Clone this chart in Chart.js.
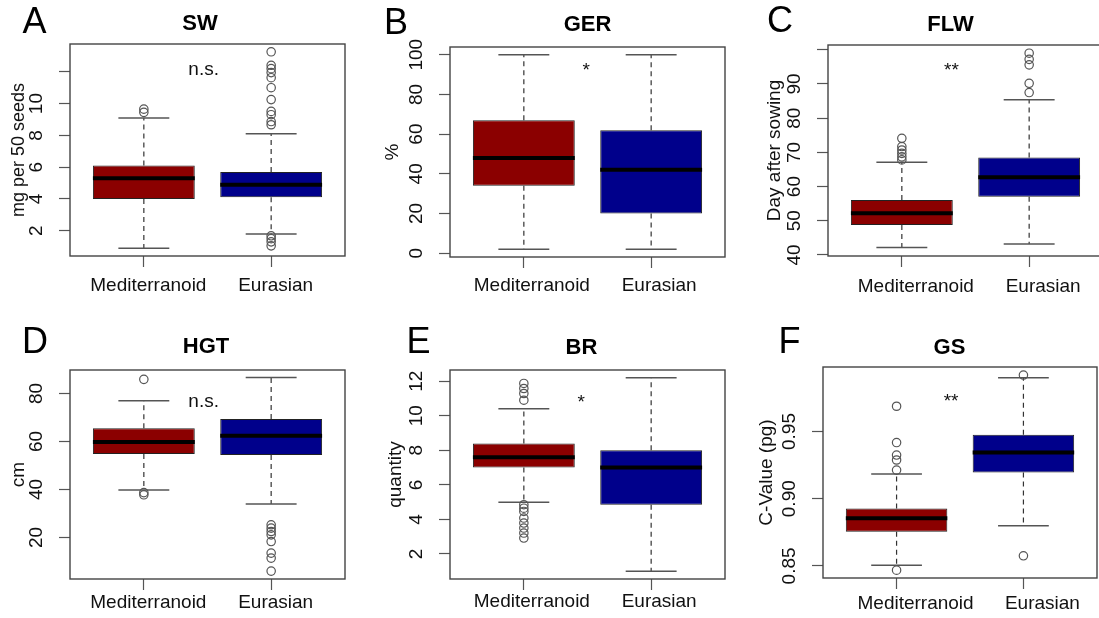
<!DOCTYPE html>
<html>
<head>
<meta charset="utf-8">
<script src="https://cdn.jsdelivr.net/npm/chart.js@4.4.1/dist/chart.umd.min.js"></script>
<style>
  html, body { margin: 0; padding: 0; background: #fff; overflow: hidden; }
  #wrap { position: relative; width: 1099px; height: 618px; overflow: hidden; background: #fff; }
  #wrap canvas { position: absolute; }
</style>
</head>
<body>
<div id="wrap"></div>
<script>
// groups and panel texts
const groups = ['Mediterranoid', 'Eurasian'];
const letters = ['A', 'B', 'C', 'D', 'E', 'F'];
const traits = ['SW', 'GER', 'FLW', 'HGT', 'BR', 'GS'];
const yTitles = ['mg per 50 seeds', '%', 'Day after sowing', 'cm', 'quantity', 'C-Value (pg)'];
const signif = ['n.s.', '*', '**', 'n.s.', '*', '**'];
const boxColors = ['#8b0000', '#00008b'];

// [lower whisker, Q1, median, Q3, upper whisker] for Mediterranoid, Eurasian
const swBox  = [[0.9, 4.0, 5.3, 6.1, 9.1], [1.8, 4.1, 4.9, 5.7, 8.1]];
const gerBox = [[2, 34, 48, 67, 100], [2, 20, 42, 62, 100]];
const flwBox = [[42.2, 48.8, 52.2, 56.1, 67.1], [43.2, 57.0, 62.7, 68.5, 85.4]];
const hgtBox = [[39.8, 54.8, 59.8, 65.5, 77.0], [34.0, 54.4, 62.4, 69.4, 86.7]];
const brBox  = [[5.0, 7.0, 7.6, 8.4, 10.4], [1.0, 4.85, 7.0, 8.0, 12.2]];
const gsBox  = [[0.8505, 0.8755, 0.8855, 0.8928, 0.9183], [0.8798, 0.9195, 0.9343, 0.9475, 0.990]];

// outliers
const swOut  = [[9.45, 9.65], [13.26, 12.41, 12.2, 11.95, 11.63, 11.0, 10.25, 9.51, 9.3, 8.87, 8.67, 1.68, 1.5, 1.3, 1.05]];
const gerOut = [[], []];
const flwOut = [[74.1, 71.7, 70.7, 69.7, 68.7, 67.8], [99.0, 97.2, 95.6, 90.2, 87.5]];
const hgtOut = [[85.9, 38.7, 37.8], [25.3, 23.9, 22.5, 21.1, 18.3, 13.5, 11.4, 6.0]];
const brOut  = [[11.87, 11.58, 11.29, 10.9, 4.85, 4.65, 4.46, 4.08, 3.79, 3.5, 3.21, 2.92], []];
const gsOut  = [[0.9688, 0.9418, 0.9325, 0.9288, 0.9213, 0.8468], [0.992, 0.8575]];

// axes
const yMin = [0.41, -1.92, 39.7, 2.7, 0.55, 0.841];
const yMax = [13.75, 103.9, 101.4, 89.8, 12.65, 0.998];
const yTicks = [
  [2, 4, 6, 8, 10, 12], [0, 20, 40, 60, 80, 100], [40, 50, 60, 70, 80, 90, 100],
  [20, 40, 60, 80], [2, 4, 6, 8, 10, 12], [0.85, 0.90, 0.95]
];
const yTickLabels = [
  ['2', '4', '6', '8', '10', ''], ['0', '20', '40', '60', '80', '100'], ['40', '50', '60', '70', '80', '90', ''],
  ['20', '40', '60', '80'], ['2', '4', '6', '8', '10', '12'], ['0.85', '0.90', '0.95']
];
// where the significance mark sits, in data units [x, y]
const signifAt = [[1.47, 12.14], [1.49, 91.9], [1.39, 93.8], [1.47, 76.7], [1.45, 10.76], [1.43, 0.972]];

const boxes = [swBox, gerBox, flwBox, hgtBox, brBox, gsBox];
const outliers = [swOut, gerOut, flwOut, hgtOut, brOut, gsOut];

// canvas placement for each panel
const panelLayout = [
  { left: 0,   top: 0,   h: 305, plotW: 275, plotH: 212, yTitleSize: 18, yTitlePad: 8.2, xLabPad: 7.6, xLabShift: 4.5, titleGap: 20,   titleDx: -7.5,  letter: [34.5, 23] },
  { left: 380, top: 3,   h: 305, plotW: 275, plotH: 210, yTitleSize: 19, yTitlePad: 1.6, xLabPad: 6.6, xLabShift: 8,   titleGap: 22.5, titleDx: 0,     letter: [16, 21] },
  { left: 758, top: 1,   h: 305, plotW: 275, plotH: 211, yTitleSize: 19, yTitlePad: 5.6, xLabPad: 8.6, xLabShift: 14,  titleGap: 20.5, titleDx: -15,   letter: [22, 21.5] },
  { left: 0,   top: 326, h: 292, plotW: 275, plotH: 209, yTitleSize: 19, yTitlePad: 7.6, xLabPad: 1.6, xLabShift: 4.5, titleGap: 23.5, titleDx: -1.5,  letter: [35, 17.5] },
  { left: 380, top: 326, h: 292, plotW: 275, plotH: 209, yTitleSize: 19, yTitlePad: 4.6, xLabPad: 0.6, xLabShift: 8,   titleGap: 22.5, titleDx: -6,    letter: [38.5, 17.5] },
  { left: 753, top: 323, h: 295, plotW: 274, plotH: 211, yTitleSize: 19, yTitlePad: 2.6, xLabPad: 3.6, xLabShift: 19,  titleGap: 19.5, titleDx: -10.5, letter: [36.5, 20.5] }
];

const FONT = '"Liberation Sans", Arial, Helvetica, sans-serif';
Chart.defaults.font.family = FONT;
Chart.defaults.color = '#111';

// whiskers under the boxes, medians / frame / texts on top
const boxPlotPlugin = {
  id: 'boxPlot',
  beforeDatasetsDraw(chart, args, opts) {
    const ctx = chart.ctx;
    const y = chart.scales.y;
    const meta = chart.getDatasetMeta(1);
    ctx.save();
    opts.stats.forEach((s, g) => {
      const bar = meta.data[g];
      const half = bar.width * 0.25;
      ctx.strokeStyle = '#333';
      ctx.lineWidth = 1.2;
      ctx.setLineDash([5, 4]);
      ctx.beginPath();
      ctx.moveTo(bar.x, y.getPixelForValue(s[1]));
      ctx.lineTo(bar.x, y.getPixelForValue(s[0]));
      ctx.moveTo(bar.x, y.getPixelForValue(s[3]));
      ctx.lineTo(bar.x, y.getPixelForValue(s[4]));
      ctx.stroke();
      ctx.setLineDash([]);
      ctx.strokeStyle = '#555';
      ctx.lineWidth = 1.5;
      ctx.beginPath();
      [s[0], s[4]].forEach(v => {
        const py = y.getPixelForValue(v);
        ctx.moveTo(bar.x - half, py);
        ctx.lineTo(bar.x + half, py);
      });
      ctx.stroke();
    });
    ctx.restore();
  },
  afterDatasetsDraw(chart, args, opts) {
    const ctx = chart.ctx;
    const x = chart.scales.x, y = chart.scales.y;
    const area = chart.chartArea;
    const meta = chart.getDatasetMeta(1);
    ctx.save();
    // medians
    ctx.strokeStyle = '#000';
    ctx.lineWidth = 4;
    opts.stats.forEach((s, g) => {
      const bar = meta.data[g];
      const py = y.getPixelForValue(s[2]);
      ctx.beginPath();
      ctx.moveTo(bar.x - bar.width / 2, py);
      ctx.lineTo(bar.x + bar.width / 2, py);
      ctx.stroke();
    });
    // plot frame
    ctx.strokeStyle = '#444';
    ctx.lineWidth = 1.4;
    ctx.strokeRect(area.left, area.top, area.right - area.left, area.bottom - area.top);
    // significance mark
    ctx.fillStyle = '#111';
    ctx.textAlign = 'center';
    ctx.textBaseline = 'middle';
    ctx.font = '19px ' + FONT;
    ctx.fillText(opts.mark, x.getPixelForValue(opts.markAt[0]), y.getPixelForValue(opts.markAt[1]));
    // panel title
    ctx.fillStyle = '#000';
    ctx.font = 'bold 22px ' + FONT;
    ctx.fillText(opts.title, (area.left + area.right) / 2 + opts.titleDx, area.top - opts.titleGap);
    // panel letter
    ctx.font = '36px ' + FONT;
    ctx.fillText(opts.letter, opts.letterPos[0], opts.letterPos[1]);
    ctx.restore();
  }
};

const measureCtx = document.createElement('canvas').getContext('2d');
measureCtx.font = '19px ' + FONT;

function makePanel(i) {
  const L = panelLayout[i];
  const canvas = document.createElement('canvas');
  canvas.width = 366;
  canvas.height = L.h;
  canvas.style.left = L.left + 'px';
  canvas.style.top = L.top + 'px';
  canvas.style.width = '366px';
  canvas.style.height = L.h + 'px';
  document.getElementById('wrap').appendChild(canvas);

  const points = [];
  outliers[i].forEach((vals, g) => vals.forEach(v => points.push({ x: g + 1, y: v })));

  const widest = Math.max(...yTickLabels[i].map(t => measureCtx.measureText(t).width));
  const yPad = 33 - 11 - widest / 2;
  const xAxisH = L.h - 44 - L.plotH;

  new Chart(canvas, {
    type: 'bar',
    data: {
      datasets: [
        {
          type: 'scatter',
          data: points,
          order: 1,
          pointStyle: 'circle',
          pointRadius: 4.2,
          pointBorderWidth: 1.2,
          pointBorderColor: '#555',
          pointBackgroundColor: 'rgba(0,0,0,0)'
        },
        {
          type: 'bar',
          data: boxes[i].map((s, g) => ({ x: g + 1, y: [s[1], s[3]] })),
          order: 2,
          backgroundColor: boxColors,
          borderColor: '#222',
          borderWidth: 1,
          borderSkipped: false,
          barPercentage: 0.8,
          categoryPercentage: 1
        }
      ]
    },
    options: {
      responsive: false,
      animation: false,
      events: [],
      layout: { padding: { left: 0, top: 44, right: 366 - 70 - L.plotW, bottom: 0 } },
      plugins: {
        legend: { display: false },
        tooltip: { enabled: false },
        boxPlot: {
          stats: boxes[i],
          mark: signif[i],
          markAt: signifAt[i],
          title: traits[i],
          titleDx: L.titleDx,
          titleGap: L.titleGap,
          letter: letters[i],
          letterPos: L.letter
        }
      },
      scales: {
        x: {
          type: 'linear',
          min: 0.42,
          max: 2.58,
          offset: false,
          bounds: 'data',
          afterBuildTicks: s => { s.ticks = [{ value: 1 }, { value: 2 }]; },
          afterFit: s => { s.height = xAxisH; },
          ticks: {
            autoSkip: false,
            maxRotation: 0,
            padding: L.xLabPad,
            labelOffset: L.xLabShift,
            color: '#111',
            font: { size: 19 },
            callback: (v, idx) => groups[idx]
          },
          grid: { display: true, offset: false, drawOnChartArea: false, drawTicks: true, tickLength: 11, tickColor: '#555', tickWidth: 1.2 },
          border: { display: false }
        },
        y: {
          type: 'linear',
          min: yMin[i],
          max: yMax[i],
          beginAtZero: false,
          bounds: 'data',
          afterBuildTicks: s => { s.ticks = yTicks[i].map(v => ({ value: v })); },
          afterFit: s => { s.width = 70; },
          ticks: {
            autoSkip: false,
            minRotation: 90,
            maxRotation: 90,
            crossAlign: 'center',
            padding: yPad,
            color: '#111',
            font: { size: 19 },
            callback: (v, idx) => yTickLabels[i][idx]
          },
          title: {
            display: true,
            text: yTitles[i],
            color: '#111',
            font: { size: L.yTitleSize },
            padding: { top: L.yTitlePad, bottom: 0 }
          },
          grid: { display: true, drawOnChartArea: false, drawTicks: true, tickLength: 11, tickColor: '#555', tickWidth: 1.2 },
          border: { display: false }
        }
      }
    },
    plugins: [boxPlotPlugin]
  });
}

for (let i = 0; i < 6; i++) makePanel(i);
</script>
</body>
</html>
